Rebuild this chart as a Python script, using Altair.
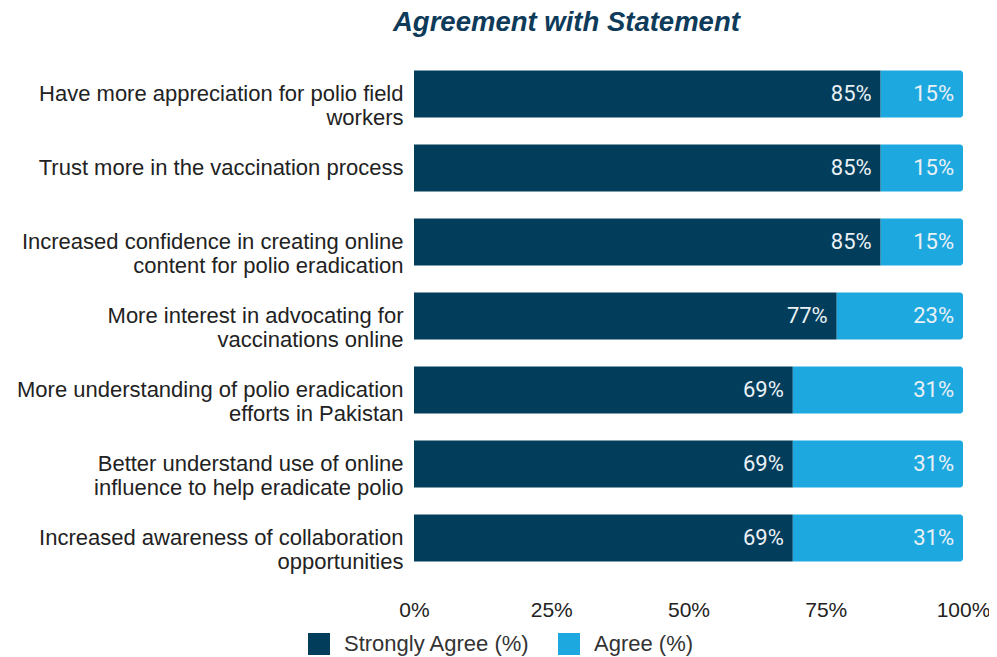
import altair as alt
import pandas as pd

categories = [
    "Have more appreciation for polio field\nworkers",
    "Trust more in the vaccination process",
    "Increased confidence in creating online\ncontent for polio eradication",
    "More interest in advocating for\nvaccinations online",
    "More understanding of polio eradication\nefforts in Pakistan",
    "Better understand use of online\ninfluence to help eradicate polio",
    "Increased awareness of collaboration\nopportunities",
]
strongly_agree = [85, 85, 85, 77, 69, 69, 69]
agree = [15, 15, 15, 23, 31, 31, 31]
series = ["Strongly Agree (%)", "Agree (%)"]
colors = ["#023d5b", "#1ea8e0"]
x_ticks = [0, 25, 50, 75, 100]

rows = []
for c, s, a in zip(categories, strongly_agree, agree):
    rows.append({"cat": c, "series": series[0], "start": 0, "end": s, "val": s, "label": f"{s}%"})
    rows.append({"cat": c, "series": series[1], "start": s, "end": s + a, "val": a, "label": f"{a}%"})
df = pd.DataFrame(rows)

y_enc = alt.Y(
    "cat:N",
    sort=categories,
    title=None,
    scale=alt.Scale(paddingInner=0.365, paddingOuter=0.1825),
    axis=alt.Axis(
        labelExpr="split(datum.label, '\\n')",
        labelFont="Liberation Sans",
        labelFontSize=22,
        labelColor="#222222",
        labelLineHeight=24,
        labelPadding=11,
        labelLimit=500,
        domain=False,
        ticks=False,
        grid=False,
    ),
)
x_enc = alt.X(
    "start:Q",
    title=None,
    scale=alt.Scale(domain=[0, 100], nice=False),
    axis=alt.Axis(
        values=x_ticks,
        labelExpr="datum.value + '%'",
        labelFont="Liberation Sans",
        labelFontSize=21,
        labelColor="#222222",
        labelPadding=24,
        labelFlush=False,
        domain=False,
        ticks=False,
        grid=False,
    ),
)
color_enc = alt.Color(
    "series:N",
    scale=alt.Scale(domain=series, range=colors),
    sort=series,
    title=None,
    legend=alt.Legend(
        orient="none",
        legendX=-106,
        legendY=576,
        direction="horizontal",
        symbolType="square",
        symbolSize=484,
        symbolStrokeWidth=0,
        labelFont="Liberation Sans",
        labelFontSize=22,
        labelColor="#333333",
        labelOffset=14,
        labelLimit=400,
        columnPadding=28,
    ),
)

base = alt.Chart(df)

dark = base.transform_filter(alt.datum.series == series[0]).mark_bar().encode(
    y=y_enc, x=x_enc, x2="end:Q", color=color_enc
)
light = base.transform_filter(alt.datum.series == series[1]).mark_bar(
    cornerRadiusTopRight=3, cornerRadiusBottomRight=3
).encode(y=y_enc, x=x_enc, x2="end:Q", color=color_enc)

text = base.mark_text(
    align="right", baseline="middle", dx=-9, font="Roboto", fontSize=22, color="#eaf1f5"
).encode(y=alt.Y("cat:N", sort=categories), x=alt.X("end:Q"), text="label:N")

chart = (
    alt.layer(dark, light, text)
    .properties(
        width=549,
        height=518,
        autosize=alt.AutoSizeParams(type="none"),
        padding={"left": 406, "top": 49, "right": 26, "bottom": 82},
        title=alt.TitleParams(
            "Agreement with Statement",
            anchor="start",
            frame="group",
            dx=-21,
            dy=-17,
            font="Liberation Sans",
            fontSize=27.5,
            fontWeight="bold",
            fontStyle="italic",
            color="#0f3b5a",
        ),
    )
    .configure_view(stroke=None)
)

chart.save("out.html", embed_options={"renderer": "svg", "actions": False})
